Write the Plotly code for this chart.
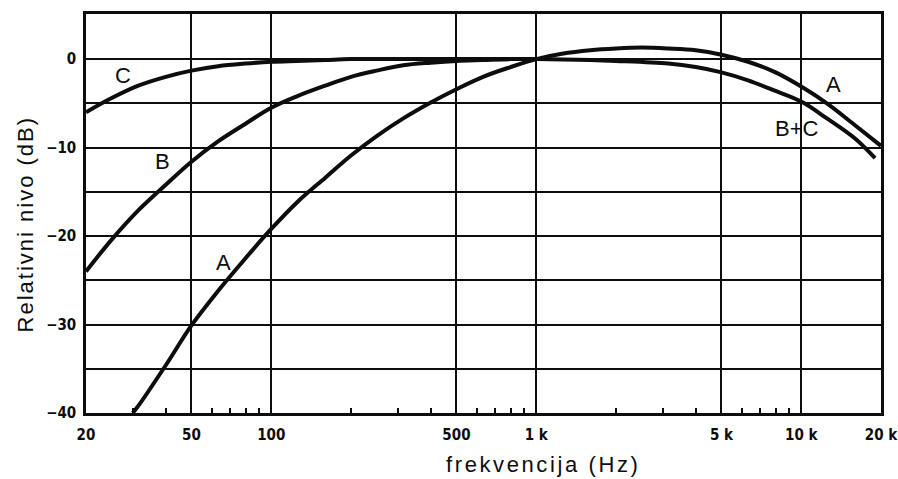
import math
import plotly.graph_objects as go

# Frequency-weighting curves (relative level in dB vs. frequency in Hz)
freq_a = [30, 31.5, 40, 50, 63, 80, 100, 125, 160, 200, 250, 315, 400, 500, 630, 800,
          1000, 1250, 1600, 2000, 2500, 3150, 4000, 5000, 6300, 8000, 10000, 12500, 16000, 20000]
level_a = [-40.0, -39.2, -34.6, -30.1, -26.2, -22.5, -19.2, -16.2, -13.4, -10.9, -8.7, -6.7, -4.9, -3.4, -2.0, -0.9,
           0.0, 0.6, 1.0, 1.2, 1.3, 1.2, 1.0, 0.5, -0.3, -1.5, -3.1, -5.0, -7.5, -9.8]

freq_b = [20, 25, 31.5, 40, 50, 63, 80, 100, 125, 160, 200, 250, 315, 400, 500, 630, 800, 1000]
level_b = [-24.0, -20.4, -17.1, -14.2, -11.6, -9.3, -7.3, -5.5, -4.2, -3.0, -2.0, -1.3, -0.7, -0.4, -0.2, -0.1, 0.0, 0.0]

freq_c = [20, 25, 31.5, 40, 50, 63, 80, 100, 125, 160, 200, 500, 1000, 1600, 2000, 3150, 4000,
          5000, 6300, 8000, 10000, 12500, 16000, 19000]
level_c = [-6.0, -4.4, -3.0, -2.0, -1.3, -0.8, -0.5, -0.3, -0.2, -0.1, 0.0, 0.0, 0.0, -0.1, -0.2, -0.5, -0.9,
           -1.5, -2.4, -3.6, -4.8, -6.7, -9.0, -11.2]

# Axis ticks
x_major = [20, 50, 100, 500, 1000, 5000, 10000, 20000]
x_major_text = ["20", "50", "100", "500", "1 k", "5 k", "10 k", "20 k"]
x_minor = [30, 40, 60, 70, 80, 90, 200, 300, 400, 600, 700, 800, 900,
           2000, 3000, 4000, 6000, 7000, 8000, 9000]
y_grid = [-40, -35, -30, -25, -20, -15, -10, -5, 0]
y_grid_text = ["\u221240", "", "\u221230", "", "\u221220", "", "\u221210", "", "0"]

# Curve labels: (text, frequency, level)
curve_labels = [("C", 27.6, -1.8), ("B", 39.0, -11.6), ("A", 65.8, -23.0),
                ("A", 13200, -2.9), ("B+C", 9640, -7.8)]

INK = "#0d0d0d"
TEXT_FONT = "Liberation Sans, Arial, sans-serif"
TICK_FONT = "Liberation Sans Narrow, DejaVu Sans Condensed, Arial Narrow, sans-serif"

fig = go.Figure()
for fx, fy in [(freq_c, level_c), (freq_b, level_b), (freq_a, level_a)]:
    fig.add_trace(go.Scatter(
        x=fx, y=fy, mode="lines",
        line=dict(color=INK, width=4, shape="spline", smoothing=1.0),
        hoverinfo="skip", showlegend=False,
    ))

# annotations on a log axis are placed in log10 units
for text, fx, fy in curve_labels:
    fig.add_annotation(
        x=math.log10(fx), y=fy, xref="x", yref="y", text=text, showarrow=False,
        font=dict(family=TEXT_FONT, size=22, color=INK),
        xanchor="center", yanchor="middle",
    )

fig.add_annotation(
    x=0.575, y=-0.128, xref="paper", yref="paper",
    text='<span style="letter-spacing:2.6px">frekvencija (Hz)</span>',
    showarrow=False, font=dict(family=TEXT_FONT, size=22, color=INK),
    xanchor="center", yanchor="middle",
)
fig.add_annotation(
    x=-0.076, y=0.474, xref="paper", yref="paper", textangle=-90,
    text='<span style="letter-spacing:2px">Relativni nivo (dB)</span>',
    showarrow=False, font=dict(family=TEXT_FONT, size=22, color=INK),
    xanchor="center", yanchor="middle",
)

fig.update_layout(
    width=898, height=479,
    margin=dict(l=86, r=17, t=14, b=66),
    paper_bgcolor="white", plot_bgcolor="white",
    xaxis=dict(
        type="log", range=[math.log10(20) - 1e-6, math.log10(20000) + 1e-6],
        tickvals=x_major, ticktext=x_major_text,
        showgrid=True, gridcolor=INK, gridwidth=1.8,
        ticks="", ticklabelstandoff=6, ticklabeloverflow="allow", automargin=False,
        tickfont=dict(family=TICK_FONT, size=15, color=INK, weight="bold"),
        showline=True, linecolor=INK, linewidth=2.5, mirror=True,
        zeroline=False,
        minor=dict(tickvals=x_minor, ticks="inside", ticklen=5, tickwidth=1.5,
                   tickcolor=INK, showgrid=False),
    ),
    yaxis=dict(
        range=[-40, 5.1],
        tickvals=y_grid, ticktext=y_grid_text,
        showgrid=True, gridcolor=INK, gridwidth=1.8,
        ticks="", ticklabelstandoff=4, automargin=False,
        tickfont=dict(family=TICK_FONT, size=15, color=INK, weight="bold"),
        showline=True, linecolor=INK, linewidth=2.5, mirror=True,
        zeroline=False,
    ),
)

fig.write_html("out.html")
